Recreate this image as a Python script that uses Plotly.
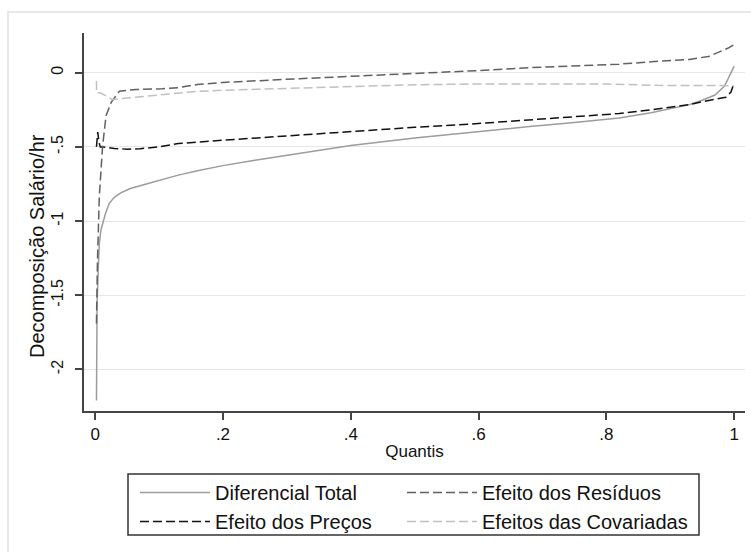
import plotly.graph_objects as go

# ---- data ----
q_total = [0.002, 0.003, 0.005, 0.0065, 0.009, 0.0115, 0.016, 0.022, 0.03, 0.04, 0.055, 0.08, 0.1, 0.13,
           0.16, 0.2, 0.25, 0.32, 0.4, 0.5, 0.6, 0.68, 0.75, 0.82, 0.87, 0.9, 0.93, 0.95, 0.97, 0.985,
           0.993, 1.0]
v_total = [-2.21, -1.55, -1.3, -1.15, -1.06, -1.02, -0.95, -0.88, -0.84, -0.81, -0.78, -0.75, -0.725, -0.69,
           -0.66, -0.626, -0.59, -0.545, -0.49, -0.44, -0.395, -0.363, -0.335, -0.305, -0.27, -0.245,
           -0.215, -0.185, -0.15, -0.09, -0.02, 0.045]

q_resid = [0.002, 0.0035, 0.0065, 0.0115, 0.017, 0.025, 0.038, 0.064, 0.105, 0.131, 0.16, 0.2, 0.32, 0.4,
           0.5, 0.6, 0.68, 0.77, 0.82, 0.87, 0.93, 0.96, 0.98, 0.99, 1.0]
v_resid = [-1.69, -1.28, -0.83, -0.50, -0.29, -0.20, -0.124, -0.113, -0.108, -0.10, -0.079, -0.065, -0.04,
           -0.025, -0.002, 0.015, 0.034, 0.05, 0.058, 0.074, 0.09, 0.11, 0.146, 0.165, 0.19]

q_precos = [0.002, 0.003, 0.004, 0.006, 0.008, 0.012, 0.02, 0.03, 0.05, 0.07, 0.1, 0.13, 0.2, 0.25, 0.32,
            0.4, 0.5, 0.59, 0.68, 0.77, 0.82, 0.87, 0.9, 0.93, 0.95, 0.975, 0.987, 0.995, 1.0]
v_precos = [-0.50, -0.42, -0.40, -0.47, -0.50, -0.50, -0.505, -0.51, -0.515, -0.512, -0.50, -0.477, -0.455,
            -0.44, -0.42, -0.395, -0.368, -0.345, -0.318, -0.29, -0.275, -0.25, -0.235, -0.215, -0.195,
            -0.175, -0.165, -0.13, -0.068]

q_covar = [0.002, 0.0022, 0.008, 0.015, 0.027, 0.053, 0.1, 0.157, 0.2, 0.32, 0.4, 0.5, 0.6, 0.7, 0.8,
           0.88, 0.93, 0.96, 0.98, 1.0]
v_covar = [-0.055, -0.135, -0.135, -0.15, -0.18, -0.169, -0.148, -0.126, -0.118, -0.104, -0.095, -0.081,
           -0.075, -0.074, -0.076, -0.085, -0.086, -0.084, -0.086, -0.09]

x_ticks = [0, 0.2, 0.4, 0.6, 0.8, 1]
x_labels = ["0", ".2", ".4", ".6", ".8", "1"]
y_ticks = [0, -0.5, -1, -1.5, -2]
y_labels = ["0", "-.5", "-1", "-1.5", "-2"]

FONT = "Arial, Liberation Sans, sans-serif"
DASH = "9px,4px"

# pixel -> paper helpers for the 751x552 layout (plot area x 84..745, y 33..411)
def px(x):
    return (x - 84) / 661

def py(y):
    return (411 - y) / 378

fig = go.Figure()
fig.add_trace(go.Scatter(x=q_total, y=v_total, mode="lines", name="Diferencial Total",
                         line=dict(color="#9c9c9c", width=1.5), legend="legend"))
fig.add_trace(go.Scatter(x=q_precos, y=v_precos, mode="lines", name="Efeito dos Preços",
                         line=dict(color="#111111", width=1.5, dash=DASH), legend="legend"))
fig.add_trace(go.Scatter(x=q_resid, y=v_resid, mode="lines", name="Efeito dos Resíduos",
                         line=dict(color="#606060", width=1.5, dash=DASH), legend="legend2"))
fig.add_trace(go.Scatter(x=q_covar, y=v_covar, mode="lines", name="Efeitos das Covariadas",
                         line=dict(color="#c0c0c0", width=1.5, dash=DASH), legend="legend2"))

leg_common = dict(orientation="v", yanchor="top", y=py(473), xanchor="left",
                  bgcolor="rgba(0,0,0,0)", borderwidth=0, font=dict(size=20, family=FONT),
                  itemwidth=70, traceorder="normal", tracegroupgap=0)

fig.update_layout(
    width=751, height=552,
    margin=dict(l=84, r=6, t=33, b=141),
    paper_bgcolor="white", plot_bgcolor="white",
    font=dict(family=FONT, size=17, color="#111"),
    showlegend=True,
    legend=dict(leg_common, x=px(135)),
    legend2=dict(leg_common, x=px(402)),
    xaxis=dict(range=[-0.0175, 1.017], tickvals=x_ticks, ticktext=x_labels,
               showgrid=False, zeroline=False, showline=True, linecolor="#444", linewidth=1.5,
               ticks="outside", ticklen=7, tickwidth=1.5, tickcolor="#444",
               tickfont=dict(size=17),
               title=dict(text="Quantis", font=dict(size=17), standoff=2)),
    yaxis=dict(range=[-2.28, 0.268], tickvals=y_ticks, ticktext=y_labels, tickangle=-90,
               showgrid=True, gridcolor="#e6e6e6", gridwidth=1, zeroline=False,
               showline=True, linecolor="#444", linewidth=1.5,
               ticks="outside", ticklen=7, tickwidth=1.5, tickcolor="#444",
               tickfont=dict(size=16), ticklabelstandoff=6),
    annotations=[dict(text="Decomposição Salário/hr", textangle=-90, showarrow=False,
                      xref="paper", yref="paper", x=px(37), y=py(246),
                      xanchor="center", yanchor="middle", font=dict(size=20, family=FONT))],
    shapes=[
        dict(type="rect", xref="paper", yref="paper",
             x0=px(8), x1=px(760), y0=py(565), y1=py(12),
             line=dict(color="#e8e8e8", width=2), layer="below"),
        dict(type="rect", xref="paper", yref="paper",
             x0=px(128), x1=px(699), y0=py(535), y1=py(474),
             line=dict(color="#333333", width=1.5), fillcolor="rgba(0,0,0,0)", layer="above"),
    ],
)

fig.write_html("out.html")
